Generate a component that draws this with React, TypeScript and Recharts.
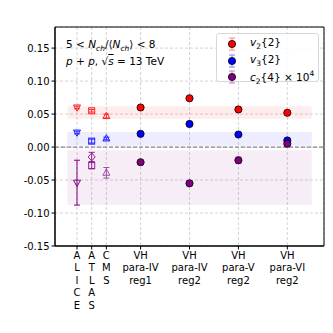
import React from "react";
import {
  ComposedChart,
  Scatter,
  XAxis,
  YAxis,
  CartesianGrid,
  ReferenceArea,
  ReferenceLine,
  ErrorBar,
  Legend,
} from "recharts";

// x positions and tick labels (experiments, then VH model variants)
const xTicks = [-0.3, 0, 0.3, 1, 2, 3, 4];
const xLabels = [
  ["A", "L", "I", "C", "E"],
  ["A", "T", "L", "A", "S"],
  ["C", "M", "S"],
  ["VH", "para-IV", "reg1"],
  ["VH", "para-IV", "reg2"],
  ["VH", "para-V", "reg2"],
  ["VH", "para-VI", "reg2"],
];
const yTicks = [-0.15, -0.1, -0.05, 0, 0.05, 0.1, 0.15];

// experimental points: [x, value, error]
const aliceV2 = [{ x: -0.3, y: 0.06, err: 0.002 }];
const aliceV3 = [{ x: -0.3, y: 0.022, err: 0.002 }];
const aliceC2 = [{ x: -0.3, y: -0.054, err: 0.034 }];
const atlasV2 = [{ x: 0, y: 0.055, err: 0.002 }];
const atlasV3 = [{ x: 0, y: 0.009, err: 0.003 }];
const atlasC2a = [{ x: 0, y: -0.015, err: 0.007 }];
const atlasC2b = [{ x: 0, y: -0.028, err: 0.005 }];
const cmsV2 = [{ x: 0.3, y: 0.047, err: 0.003 }];
const cmsV3 = [{ x: 0.3, y: 0.013, err: 0.002 }];
const cmsC2 = [{ x: 0.3, y: -0.039, err: 0.008 }];

// VH model results
const vhX = [1, 2, 3, 4];
const vhV2 = [0.06, 0.074, 0.057, 0.052];
const vhV3 = [0.02, 0.035, 0.019, 0.01];
const vhC2 = [-0.023, -0.055, -0.02, 0.005];
const vhC2Err = [0.003, 0.004, 0.005, 0.002];

// experimental ranges (shaded bands)
const v2Band = [0.043, 0.062];
const v3Band = [0.002, 0.023];
const c2Band = [-0.088, -0.005];

const vhData = (vals: number[], errs?: number[]) =>
  vals.map((y, i) => ({ x: vhX[i], y, err: errs ? errs[i] : 0.001 }));

const FONT = "'DejaVu Sans', sans-serif";

const triDown = (color: string) => (p: any) => {
  const { cx, cy } = p;
  return (
    <polygon
      points={`${cx - 3.5},${cy - 2.5} ${cx + 3.5},${cy - 2.5} ${cx},${cy + 3.8}`}
      fill="none"
      stroke={color}
      strokeWidth={1}
    />
  );
};
const triUp = (color: string) => (p: any) => {
  const { cx, cy } = p;
  return (
    <polygon
      points={`${cx - 3.5},${cy + 2.5} ${cx + 3.5},${cy + 2.5} ${cx},${cy - 3.8}`}
      fill="none"
      stroke={color}
      strokeWidth={1}
    />
  );
};
const square = (color: string) => (p: any) => {
  const { cx, cy } = p;
  return <rect x={cx - 3} y={cy - 3} width={6} height={6} fill="none" stroke={color} strokeWidth={1} />;
};
const diamond = (color: string) => (p: any) => {
  const { cx, cy } = p;
  return (
    <polygon
      points={`${cx},${cy - 4} ${cx + 3.5},${cy} ${cx},${cy + 4} ${cx - 3.5},${cy}`}
      fill="none"
      stroke={color}
      strokeWidth={1}
    />
  );
};
const dot = (color: string) => (p: any) => {
  const { cx, cy } = p;
  return <circle cx={cx} cy={cy} r={3.6} fill={color} stroke="#000" strokeWidth={0.8} />;
};

const XTick = (props: any) => {
  const { x, y, payload } = props;
  const idx = xTicks.indexOf(payload.value);
  const lines = idx >= 0 ? xLabels[idx] : [];
  return (
    <text x={x} y={y} textAnchor="middle" fontSize={10} fontFamily={FONT} fill="#000">
      {lines.map((l, i) => (
        <tspan key={i} x={x} dy={i === 0 ? "0.71em" : 12.6}>
          {l}
        </tspan>
      ))}
    </text>
  );
};

const legendItems = [
  { color: "#ff0000", bar: "#ff8080", sym: "v", sub: "2", rest: "{2}" },
  { color: "#0000ff", bar: "#8080ff", sym: "v", sub: "3", rest: "{2}" },
  { color: "#800080", bar: "#c080c0", sym: "c", sub: "2", rest: "{4} × 10", sup: "4" },
];

const renderLegend = () => (
  <div
    style={{
      width: 103,
      height: 49,
      border: "1px solid #d8d8d8",
      borderRadius: 3,
      background: "rgba(255,255,255,0.85)",
      fontFamily: FONT,
      fontSize: 10.5,
      boxSizing: "border-box",
      position: "relative",
    }}
  >
    {legendItems.map((it, i) => (
      <div key={i} style={{ position: "absolute", left: 8, top: 3 + i * 16.5, height: 14, display: "flex", alignItems: "center" }}>
        <svg width={14} height={14}>
          <line x1={7} y1={1} x2={7} y2={13} stroke={it.bar} strokeWidth={1} />
          <line x1={4} y1={1} x2={10} y2={1} stroke={it.bar} strokeWidth={1} />
          <line x1={4} y1={13} x2={10} y2={13} stroke={it.bar} strokeWidth={1} />
          <circle cx={7} cy={7} r={3.6} fill={it.color} stroke="#000" strokeWidth={0.8} />
        </svg>
        <span style={{ marginLeft: 11, whiteSpace: "nowrap" }}>
          <i>{it.sym}</i>
          <sub style={{ fontSize: 7.5 }}>{it.sub}</sub>
          {it.rest}
          {it.sup && <sup style={{ fontSize: 7.5 }}>{it.sup}</sup>}
        </span>
      </div>
    ))}
  </div>
);

export default function App() {
  return (
    <div style={{ position: "absolute", left: 0, top: 0, width: 333, height: 333, background: "#fff", fontFamily: FONT }}>
      <ComposedChart width={333} height={333} margin={{ top: 27, right: 9, bottom: 7, left: 0 }}>
        <CartesianGrid stroke="#d4d4d4" strokeDasharray="3 2" />
        <XAxis
          type="number"
          dataKey="x"
          domain={[-0.75, 4.75]}
          ticks={xTicks}
          interval={0}
          allowDataOverflow
          height={80}
          tick={<XTick />}
          tickSize={3.5}
          tickMargin={2}
          stroke="#000"
          tickLine={{ stroke: "#000" }}
        />
        <YAxis
          type="number"
          dataKey="y"
          domain={[-0.15, 0.182]}
          ticks={yTicks}
          interval={0}
          allowDataOverflow
          width={55}
          tickSize={3.5}
          tickMargin={2}
          tickFormatter={(v: number) => v.toFixed(2)}
          tick={{ fontSize: 10, fill: "#000", fontFamily: FONT }}
          stroke="#000"
        />
        <ReferenceArea x1={-0.5} x2={4.5} y1={v2Band[0]} y2={v2Band[1]} fill="#ff0000" fillOpacity={0.07} stroke="none" />
        <ReferenceArea x1={-0.5} x2={4.5} y1={v3Band[0]} y2={v3Band[1]} fill="#0000ff" fillOpacity={0.07} stroke="none" />
        <ReferenceArea x1={-0.5} x2={4.5} y1={c2Band[0]} y2={c2Band[1]} fill="#800080" fillOpacity={0.07} stroke="none" />
        <ReferenceLine y={0} stroke="#8a8a8a" strokeDasharray="4 2" strokeWidth={1.3} />
        <ReferenceArea x1={-0.75} x2={4.75} y1={-0.15} y2={0.182} fill="none" stroke="#000" strokeWidth={1} />

        <Scatter data={aliceV2} shape={triDown("#ff2020")} isAnimationActive={false}>
          <ErrorBar dataKey="err" direction="y" width={3} stroke="#ff2020" strokeWidth={1} />
        </Scatter>
        <Scatter data={aliceV3} shape={triDown("#2020ff")} isAnimationActive={false}>
          <ErrorBar dataKey="err" direction="y" width={3} stroke="#2020ff" strokeWidth={1} />
        </Scatter>
        <Scatter data={aliceC2} shape={triDown("#800080")} isAnimationActive={false}>
          <ErrorBar dataKey="err" direction="y" width={3} stroke="#800080" strokeWidth={1} />
        </Scatter>
        <Scatter data={atlasV2} shape={square("#ff2020")} isAnimationActive={false}>
          <ErrorBar dataKey="err" direction="y" width={3} stroke="#ff2020" strokeWidth={1} />
        </Scatter>
        <Scatter data={atlasV3} shape={square("#2020ff")} isAnimationActive={false}>
          <ErrorBar dataKey="err" direction="y" width={3} stroke="#2020ff" strokeWidth={1} />
        </Scatter>
        <Scatter data={atlasC2a} shape={diamond("#902090")} isAnimationActive={false}>
          <ErrorBar dataKey="err" direction="y" width={3} stroke="#902090" strokeWidth={1} />
        </Scatter>
        <Scatter data={atlasC2b} shape={square("#902090")} isAnimationActive={false}>
          <ErrorBar dataKey="err" direction="y" width={3} stroke="#902090" strokeWidth={1} />
        </Scatter>
        <Scatter data={cmsV2} shape={triUp("#ff2020")} isAnimationActive={false}>
          <ErrorBar dataKey="err" direction="y" width={3} stroke="#ff2020" strokeWidth={1} />
        </Scatter>
        <Scatter data={cmsV3} shape={triUp("#2020ff")} isAnimationActive={false}>
          <ErrorBar dataKey="err" direction="y" width={3} stroke="#2020ff" strokeWidth={1} />
        </Scatter>
        <Scatter data={cmsC2} shape={triUp("#a050a0")} isAnimationActive={false}>
          <ErrorBar dataKey="err" direction="y" width={3} stroke="#a050a0" strokeWidth={1} />
        </Scatter>

        <Scatter data={vhData(vhV2)} shape={dot("#ff0000")} isAnimationActive={false}>
          <ErrorBar dataKey="err" direction="y" width={3} stroke="#ff8080" strokeWidth={1} />
        </Scatter>
        <Scatter data={vhData(vhV3)} shape={dot("#0000ff")} isAnimationActive={false}>
          <ErrorBar dataKey="err" direction="y" width={3} stroke="#8080ff" strokeWidth={1} />
        </Scatter>
        <Scatter data={vhData(vhC2, vhC2Err)} shape={dot("#800080")} isAnimationActive={false}>
          <ErrorBar dataKey="err" direction="y" width={3} stroke="#c080c0" strokeWidth={1} />
        </Scatter>

        <Legend
          layout="vertical"
          verticalAlign="middle"
          align="center"
          content={renderLegend}
          wrapperStyle={{ position: "absolute", left: 216, top: 33, width: 103 }}
        />
      </ComposedChart>
      <div style={{ position: "absolute", left: 66, top: 38, fontSize: 10.5, whiteSpace: "nowrap" }}>
        5 &lt; <i>N</i>
        <sub style={{ fontSize: 7.5 }}>
          <i>ch</i>
        </sub>
        /⟨<i>N</i>
        <sub style={{ fontSize: 7.5 }}>
          <i>ch</i>
        </sub>
        ⟩ &lt; 8
      </div>
      <div style={{ position: "absolute", left: 66, top: 55, fontSize: 10.5, whiteSpace: "nowrap" }}>
        <i>p</i> + <i>p</i>, √<span style={{ textDecoration: "overline" }}><i>s</i></span> = 13 TeV
      </div>
    </div>
  );
}
